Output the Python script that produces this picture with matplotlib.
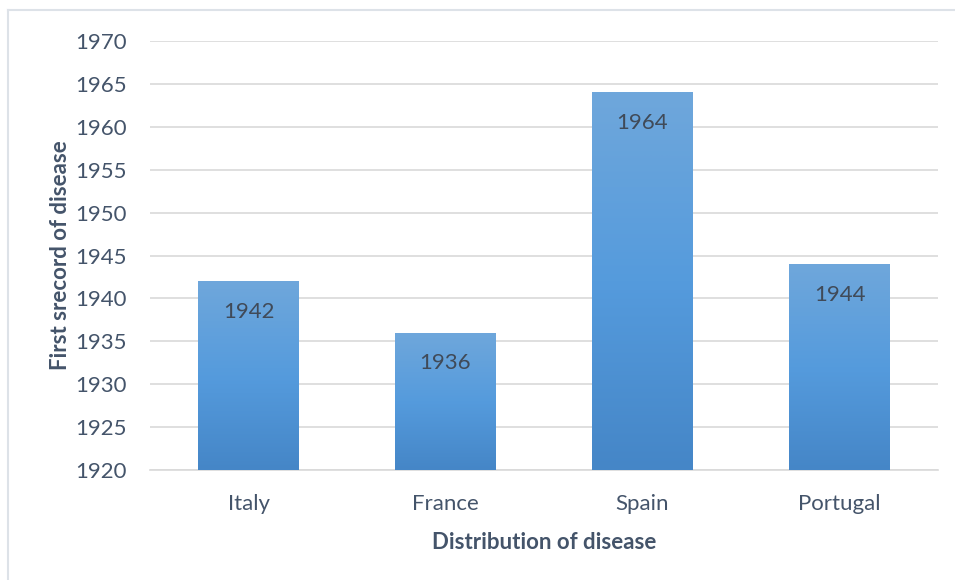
import matplotlib

matplotlib.use("Agg")
import matplotlib.pyplot as plt
import numpy as np
from matplotlib.colors import LinearSegmentedColormap
from matplotlib.lines import Line2D

countries = ["Italy", "France", "Spain", "Portugal"]
first_record = [1942, 1936, 1964, 1944]
y_ticks = [1920, 1925, 1930, 1935, 1940, 1945, 1950, 1955, 1960, 1965, 1970]

TEXT = "#44546A"
GRID = "#D9D9D9"

plt.rcParams["font.family"] = ["Lato", "DejaVu Sans"]

fig = plt.figure(figsize=(9.55, 5.8), dpi=100)
ax = fig.add_axes([150 / 955, 110 / 580, 788 / 955, 429 / 580])

# outer chart frame (only left and top edges fall inside the image)
fig.add_artist(Line2D([8 / 955, 8 / 955], [0, 1 - 10 / 580],
                      transform=fig.transFigure, color="#DDE2E8", lw=1.5))
fig.add_artist(Line2D([8 / 955, 1], [1 - 10 / 580, 1 - 10 / 580],
                      transform=fig.transFigure, color="#DDE2E8", lw=1.5))

x = np.arange(len(countries))
bars = ax.bar(x, np.array(first_record) - 1920, bottom=1920, width=0.51,
              color="none", zorder=3)

grad = LinearSegmentedColormap.from_list(
    "bar_grad", ["#4586C7", "#559BDD", "#6FA7DB"])
g = np.linspace(0, 1, 256).reshape(-1, 1)
for rect in bars:
    x0, y0 = rect.get_x(), rect.get_y()
    w, h = rect.get_width(), rect.get_height()
    im = ax.imshow(g, cmap=grad, origin="lower", aspect="auto",
                   extent=(x0, x0 + w, y0, y0 + h), zorder=3)
    im.set_clip_path(rect)

for xi, v in zip(x, first_record):
    ax.text(xi, v - 2.4, f"{v}", ha="center", va="top", fontsize=16,
            color="#404A58", zorder=4)

ax.set_xlim(-0.5, len(countries) - 0.5)
ax.set_ylim(1920, 1970)
ax.set_yticks(y_ticks)
ax.set_xticks(x)
ax.set_xticklabels(countries)
ax.tick_params(axis="both", length=0, labelsize=16, labelcolor=TEXT)
ax.tick_params(axis="y", pad=16.5)
ax.tick_params(axis="x", pad=17)
ax.grid(axis="y", color=GRID, lw=1.2, zorder=0)
for side in ("top", "right", "left"):
    ax.spines[side].set_visible(False)
ax.spines["bottom"].set_color(GRID)
ax.spines["bottom"].set_linewidth(1.2)

ax.set_xlabel("Distribution of disease", fontsize=16, fontweight="bold",
              color=TEXT, labelpad=13)
ax.set_ylabel("First srecord of disease", fontsize=16, fontweight="bold",
              color=TEXT, labelpad=3)

fig.savefig("out.png", dpi=100)
